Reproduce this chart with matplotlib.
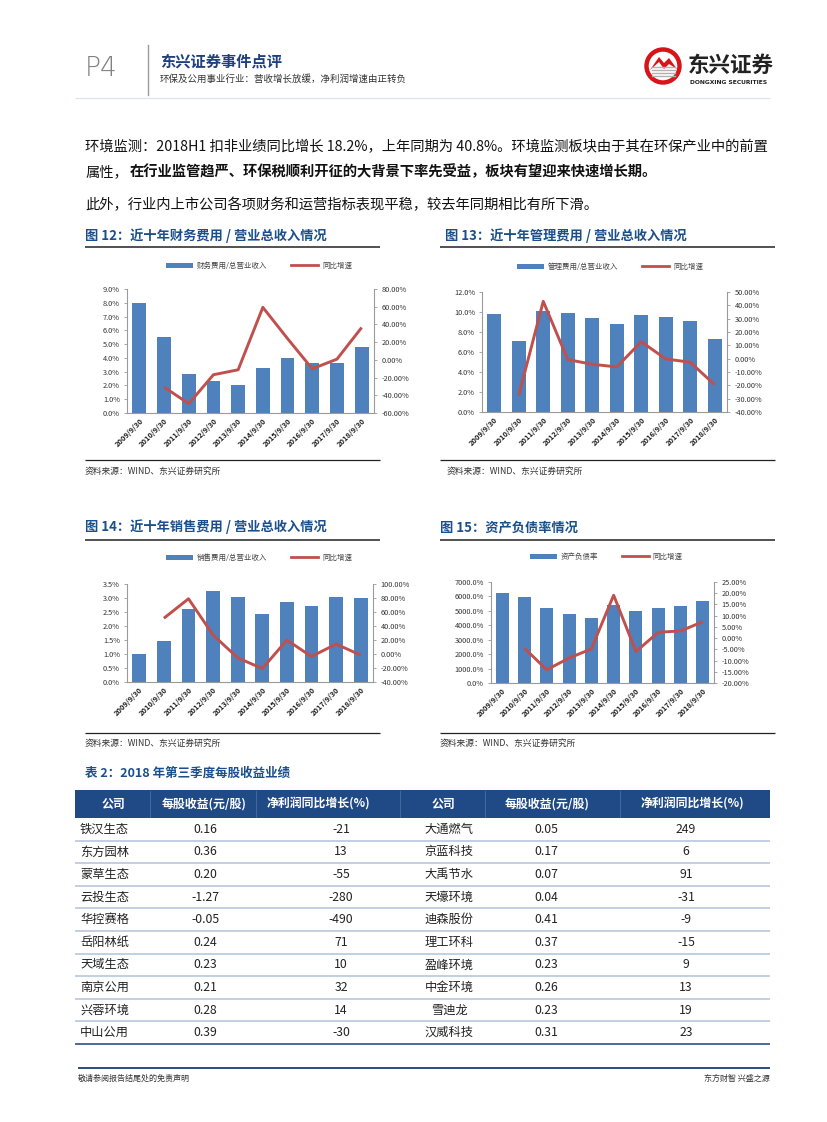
import matplotlib
matplotlib.use('Agg')
import matplotlib.pyplot as plt
from matplotlib.patches import Rectangle, Circle, Polygon
from matplotlib.lines import Line2D
import numpy as np

plt.rcParams['font.family'] = ['Noto Sans CJK SC', 'DejaVu Sans']
plt.rcParams['axes.unicode_minus'] = False

# ---------------- data ----------------
dates = ["2009/9/30", "2010/9/30", "2011/9/30", "2012/9/30", "2013/9/30",
         "2014/9/30", "2015/9/30", "2016/9/30", "2017/9/30", "2018/9/30"]

fin_ratio = [8.0, 5.5, 2.8, 2.3, 2.05, 3.25, 4.0, 3.6, 3.65, 4.8]
fin_yoy = [np.nan, -30.7, -49.5, -16.8, -11.2, 59.3, 24.0, -10.1, 0.8, 36.5]

adm_ratio = [9.85, 7.13, 10.14, 9.94, 9.41, 8.78, 9.75, 9.51, 9.12, 7.26]
adm_yoy = [np.nan, -27.6, 43.0, -0.7, -4.2, -6.2, 12.7, -0.2, -2.7, -19.6]

sale_ratio = [1.0, 1.47, 2.59, 3.24, 3.04, 2.42, 2.85, 2.71, 3.04, 3.01]
sale_yoy = [np.nan, 51.1, 78.9, 27.1, -5.5, -20.8, 19.9, -3.6, 14.2, -1.6]

debt_ratio = [6243, 5967, 5187, 4751, 4521, 5393, 5003, 5187, 5302, 5669]
debt_yoy = [np.nan, -4.5, -14.1, -8.9, -4.8, 19.1, -6.0, 2.6, 3.2, 7.3]

table_header = ["公司", "每股收益(元/股)", "净利润同比增长(%)", "公司", "每股收益(元/股)", "净利润同比增长(%)"]
comp_left = ["铁汉生态", "东方园林", "蒙草生态", "云投生态", "华控赛格",
             "岳阳林纸", "天域生态", "南京公用", "兴蓉环境", "中山公用"]
eps_left = [0.16, 0.36, 0.20, -1.27, -0.05, 0.24, 0.23, 0.21, 0.28, 0.39]
np_left = [-21, 13, -55, -280, -490, 71, 10, 32, 14, -30]
comp_right = ["大通燃气", "京蓝科技", "大禹节水", "天壕环境", "迪森股份",
              "理工环科", "盈峰环境", "中金环境", "雪迪龙", "汉威科技"]
eps_right = [0.05, 0.17, 0.07, 0.04, 0.41, 0.37, 0.23, 0.26, 0.23, 0.31]
np_right = [249, 6, 91, -31, -9, -15, 9, 13, 19, 23]

# ---------------- style ----------------
W, H = 827, 1122
BAR_C = '#4F81BD'
LINE_C = '#C0504D'
TITLE_C = '#1A4F8B'
NAVY = '#1F4A86'
AX_C = '#9A9A9A'

fig = plt.figure(figsize=(W / 100, H / 100), dpi=100)
bg = fig.add_axes([0, 0, 1, 1])
bg.set_xlim(0, W)
bg.set_ylim(H, 0)
bg.axis('off')


def rect(x0, y0, x1, y1):
    return [x0 / W, 1 - y1 / H, (x1 - x0) / W, (y1 - y0) / H]


def hline(x0, x1, y, color, lw):
    bg.add_line(Line2D([x0, x1], [y, y], color=color, lw=lw, solid_capstyle='butt'))


# ---------------- header ----------------
bg.text(85, 68, "P4", fontsize=19, color='#808080', va='center', ha='left',
        family=['DejaVu Sans'], fontweight='light')
bg.add_line(Line2D([148, 148], [45, 95], color='#9A9A9A', lw=1))
bg.text(160, 62, "东兴证券事件点评", fontsize=11, fontweight='bold', color='#1F3F7F', va='center')
bg.text(160, 79, "环保及公用事业行业：营收增长放缓，净利润增速由正转负", fontsize=6.8, color='#333333', va='center')

# logo
bg.add_patch(Circle((663, 66), 16.5, facecolor='white', edgecolor='#D7141A', lw=3.2))
for yy in [67, 70, 73, 76]:
    bg.add_line(Line2D([652, 675], [yy, yy], color='#B0B0B0', lw=1))
bg.add_patch(Polygon([(650, 70), (659, 57), (664, 63), (669, 58), (677, 69), (669, 64), (664, 69), (659, 62)],
                     closed=True, facecolor='#D7141A', edgecolor='none'))
bg.text(688, 65, "东兴证券", fontsize=15.5, fontweight='bold', color='#222222', va='center')
bg.text(690, 82, "DONGXING SECURITIES", fontsize=4.3, fontweight='bold', color='#222222', va='center',
        family=['DejaVu Sans'])
hline(75, 770, 98, '#DCE6F1', 1)

# ---------------- paragraphs ----------------
PFS = 10.3
bg.text(85, 147, "环境监测：2018H1 扣非业绩同比增长 18.2%，上年同期为 40.8%。环境监测板块由于其在环保产业中的前置",
        fontsize=PFS, color='#111111', va='center')
bg.text(85, 172, "属性，", fontsize=PFS, color='#111111', va='center')
bg.text(130, 172, "在行业监管趋严、环保税顺利开征的大背景下率先受益，板块有望迎来快速增长期。",
        fontsize=PFS, color='#111111', va='center', fontweight='bold')
bg.text(85, 205, "此外，行业内上市公司各项财务和运营指标表现平稳，较去年同期相比有所下滑。",
        fontsize=PFS, color='#111111', va='center')

# ---------------- chart titles / frames ----------------
TFS = 9.5
bg.text(85, 236, "图 12：近十年财务费用 / 营业总收入情况", fontsize=TFS, fontweight='bold', color=TITLE_C, va='center')
bg.text(445, 236, "图 13：近十年管理费用 / 营业总收入情况", fontsize=TFS, fontweight='bold', color=TITLE_C, va='center')
bg.text(85, 527, "图 14：近十年销售费用 / 营业总收入情况", fontsize=TFS, fontweight='bold', color=TITLE_C, va='center')
bg.text(440, 527, "图 15：资产负债率情况", fontsize=TFS, fontweight='bold', color=TITLE_C, va='center')
for y in [247, 540]:
    hline(85, 380, y, '#222222', 1.1)
    hline(440, 775, y, '#222222', 1.1)
for y in [460, 733]:
    hline(85, 380, y, '#222222', 0.9)
    hline(440, 775, y, '#222222', 0.9)
SRC = "资料来源：WIND、东兴证券研究所"
bg.text(85, 471, SRC, fontsize=6.3, color='#333333', va='center', style='italic')
bg.text(447, 471, SRC, fontsize=6.3, color='#333333', va='center', style='italic')
bg.text(85, 743, SRC, fontsize=6.3, color='#333333', va='center', style='italic')
bg.text(440, 743, SRC, fontsize=6.3, color='#333333', va='center', style='italic')


# ---------------- charts ----------------
def make_chart(px, bars, yoy, lylim, lticks, lfmt, rylim, rticks, bar_label, legend_xy, width=0.56):
    ax = fig.add_axes(rect(*px))
    x = np.arange(len(dates))
    ax.bar(x, bars, width=width, color=BAR_C, zorder=2)
    ax.set_xlim(-0.5, len(dates) - 0.5)
    ax.set_ylim(*lylim)
    ax.set_yticks(lticks)
    ax.set_yticklabels([lfmt(v) for v in lticks], fontsize=5.3, color='#333333')
    ax.set_xticks(x)
    ax.set_xticklabels(dates, rotation=45, ha='right', va='top', rotation_mode='anchor',
                       fontsize=5.4, fontweight='bold', color='#222222')
    ax.tick_params(axis='x', length=0, pad=3)
    ax.tick_params(axis='y', length=2.5, width=0.6, color=AX_C, pad=2.5)
    ax.patch.set_alpha(0)
    for s in ['top', 'right']:
        ax.spines[s].set_visible(False)
    for s in ['left', 'bottom']:
        ax.spines[s].set_color(AX_C)
        ax.spines[s].set_linewidth(0.8)
    ax2 = ax.twinx()
    ax2.plot(x, yoy, color=LINE_C, lw=2.1, zorder=3, solid_capstyle='butt')
    ax2.set_ylim(*rylim)
    ax2.set_yticks(rticks)
    ax2.set_yticklabels(["%.2f%%" % v for v in rticks], fontsize=5.3, color='#333333')
    ax2.tick_params(axis='y', length=2.5, width=0.6, color=AX_C, pad=3)
    for s in ['top', 'left', 'bottom']:
        ax2.spines[s].set_visible(False)
    ax2.spines['right'].set_color(AX_C)
    ax2.spines['right'].set_linewidth(0.8)
    handles = [Rectangle((0, 0), 1, 1, facecolor=BAR_C, edgecolor='none'),
               Line2D([0], [0], color=LINE_C, lw=2)]
    fig.legend(handles, [bar_label, "同比增速"], loc='center',
               bbox_to_anchor=(legend_xy[0] / W, 1 - legend_xy[1] / H),
               ncol=2, frameon=False, fontsize=5.4, handlelength=3.6, handleheight=0.6,
               handletextpad=0.5, columnspacing=3.2, labelcolor='#444444')
    return ax, ax2


make_chart((127, 289, 374, 413), fin_ratio, fin_yoy, (0, 9), np.arange(0, 9.01, 1.0),
           lambda v: "%.1f%%" % v, (-60, 80), np.arange(-60, 80.1, 20),
           "财务费用/总营业收入", (259, 266))
make_chart((482, 292, 727, 412), adm_ratio, adm_yoy, (0, 12), np.arange(0, 12.01, 2.0),
           lambda v: "%.1f%%" % v, (-40, 50), np.arange(-40, 50.1, 10),
           "管理费用/总营业收入", (610, 267))
make_chart((127, 584, 373, 682), sale_ratio, sale_yoy, (0, 3.5), np.arange(0, 3.51, 0.5),
           lambda v: "%.1f%%" % v, (-40, 100), np.arange(-40, 100.1, 20),
           "销售费用/总营业收入", (259, 558))
make_chart((491, 582, 714, 683), debt_ratio, debt_yoy, (0, 7000), np.arange(0, 7001, 1000),
           lambda v: "%.1f%%" % v, (-20, 25), np.arange(-20, 25.1, 5),
           "资产负债率", (606, 557), width=0.58)

# ---------------- table ----------------
bg.text(85, 773, "表 2：2018 年第三季度每股收益业绩", fontsize=9, fontweight='bold', color=TITLE_C, va='center')
bg.add_patch(Rectangle((75, 790), 695, 28, facecolor=NAVY, edgecolor='none'))
col_edges = [75, 150, 256, 400, 485, 620, 770]
for xe in col_edges[1:-1]:
    bg.add_line(Line2D([xe, xe], [791, 817], color='#4A6FA5', lw=0.6))
hdr_cx = [113, 204, 318, 443, 547, 692]
for cx, t in zip(hdr_cx, table_header):
    bg.text(cx, 804, t, fontsize=8.6, fontweight='bold', color='white', ha='center', va='center')

row_y0 = 818
row_h = 22.6
for i in range(len(comp_left)):
    cy = row_y0 + row_h * (i + 0.5)
    bg.text(80, cy, comp_left[i], fontsize=8.8, color='#222222', ha='left', va='center')
    bg.text(205, cy, "%.2f" % eps_left[i], fontsize=8.8, color='#222222', ha='center', va='center')
    bg.text(341, cy, "%d" % np_left[i], fontsize=8.8, color='#222222', ha='center', va='center')
    bg.text(449, cy, comp_right[i], fontsize=8.8, color='#222222', ha='center', va='center')
    bg.text(546, cy, "%.2f" % eps_right[i], fontsize=8.8, color='#222222', ha='center', va='center')
    bg.text(686, cy, "%d" % np_right[i], fontsize=8.8, color='#222222', ha='center', va='center')
    yl = row_y0 + row_h * (i + 1)
    if i < len(comp_left) - 1:
        hline(75, 770, yl, '#B7C7DB', 1.2)
    else:
        hline(75, 770, yl, '#3D5F8F', 1.3)

# ---------------- footer ----------------
hline(78, 770, 1068, '#2B4C7E', 1.4)
bg.text(78, 1078, "敬请参阅报告结尾处的免责声明", fontsize=5.8, color='#333333', va='center')
bg.text(770, 1078, "东方财智 兴盛之源", fontsize=5.8, color='#333333', va='center', ha='right')

fig.savefig('out.png', dpi=100)
